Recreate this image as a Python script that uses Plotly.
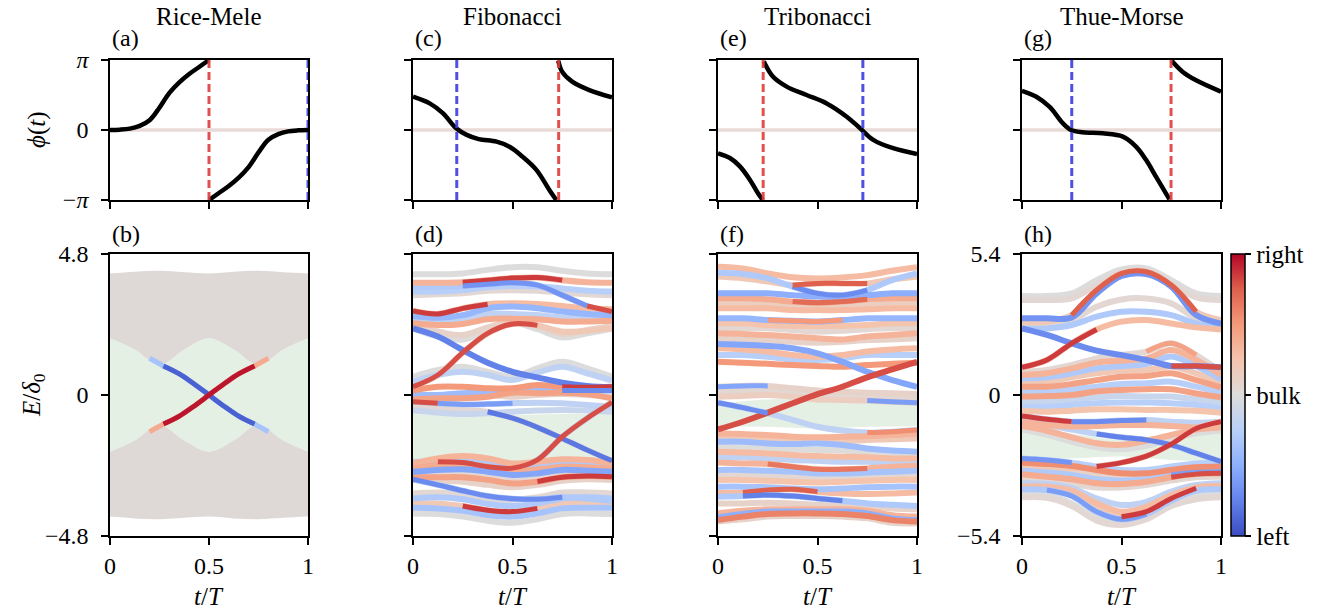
import math
import plotly.graph_objects as go

PI = math.pi
W, H = 1332, 613
FONT = "Liberation Serif, DejaVu Serif, serif"

# ---------------- data ----------------
titles = ["Rice-Mele", "Fibonacci", "Tribonacci", "Thue-Morse"]
top_labels = ["(a)", "(c)", "(e)", "(g)"]
bottom_labels = ["(b)", "(d)", "(f)", "(h)"]
x_ticks = [0, 0.5, 1]
x_ticktext = ["0", "0.5", "1"]
cbar_text = ["left", "bulk", "right"]

# phase phi(t) in units of pi, two branches per model
rm_t1 = [0, .05, .1, .15, .2, .25, .3, .35, .4, .45, .5]
rm_p1 = [0, 0.005, 0.02, 0.06, 0.14, 0.32, 0.53, 0.68, 0.8, 0.9, 1.0]
rm_t2 = [.5, .55, .6, .65, .7, .75, .8, .85, .9, .95, 1]
rm_p2 = [-1.0, -0.9, -0.8, -0.68, -0.53, -0.32, -0.14, -0.06, -0.02, -0.005, 0]

fib_t1 = [0, .084, .15, .217, .27, .33, .42, .485, .55, .62, .686, .72]
fib_p1 = [0.476, 0.38, 0.24, 0.024, -0.07, -0.13, -0.167, -0.24, -0.38, -0.57, -0.86, -1.0]
fib_t2 = [.73, .75, .80, .886, 1.0]
fib_p2 = [0.99, 0.83, 0.69, 0.57, 0.467]

tri_t1 = [0, .06, .11, .16, .2, .225]
tri_p1 = [-0.333, -0.40, -0.52, -0.71, -0.9, -1.0]
tri_t2 = [.23, .277, .345, .445, .546, .647, .714, .78, .88, 1]
tri_p2 = [0.98, 0.76, 0.62, 0.5, 0.38, 0.19, 0.024, -0.14, -0.26, -0.343]

tm_t1 = [0, .072, .139, .206, .247, .306, .406, .507, .574, .624, .674, .741]
tm_p1 = [0.56, 0.476, 0.33, 0.095, 0.0, -0.033, -0.048, -0.095, -0.24, -0.43, -0.67, -0.99]
tm_t2 = [.752, .808, .875, 1]
tm_p2 = [0.99, 0.83, 0.71, 0.548]

# positions of the dashed markers (red, blue)
rm_marks = (0.5, 1.0)
fib_marks = (0.732, 0.22)
tri_marks = (0.227, 0.728)
tm_marks = (0.749, 0.25)

# spectra: energies sampled at T9, base colour (-1 left ... 1 right), coloured stretches
T9 = [0, 0.125, 0.25, 0.375, 0.5, 0.625, 0.75, 0.875, 1.0]
T5 = [0, 0.25, 0.5, 0.75, 1.0]

rm_gap = [1.93, 1.55, 1.02, 1.55, 1.93, 1.55, 1.02, 1.55, 1.93]
rm_top = [4.14, 4.20, 4.23, 4.18, 4.14, 4.20, 4.23, 4.18, 4.14]
rm_edge_t = [0.2, 0.27, 0.35, 0.42, 0.5, 0.58, 0.65, 0.73, 0.8]
rm_edge_blue = [1.25, 0.99, 0.72, 0.40, 0.0, -0.40, -0.72, -0.99, -1.25]
rm_edge_red = [-1.25, -0.99, -0.72, -0.40, 0.0, 0.40, 0.72, 0.99, 1.25]

fib_green_top = [-0.65, -0.71, -0.68, -0.65, -0.65]
fib_green_bot = [-2.19, -2.10, -2.30, -2.24, -2.27]
fib_bands = [
    ([4.11, 4.11, 4.14, 4.26, 4.35, 4.35, 4.23, 4.14, 4.11], 0.0, []),
    ([3.82, 3.82, 3.84, 3.91, 3.98, 4.00, 3.91, 3.84, 3.82], 0.35, [(2, 6, 0.85)]),
    ([3.69, 3.69, 3.71, 3.77, 3.82, 3.74, 3.40, 3.03, 2.84], -0.3, [(2, 7, -0.65), (7, 8, 0.8)]),
    ([3.52, 3.52, 3.57, 3.67, 3.71, 3.69, 3.63, 3.55, 3.52], -0.25, []),
    ([3.40, 3.43, 3.46, 3.55, 3.57, 3.55, 3.48, 3.43, 3.40], 0.05, []),
    ([2.86, 2.76, 2.95, 3.09, 3.12, 3.10, 3.03, 2.95, 2.92], 0.3, [(0, 3, 0.85)]),
    ([2.69, 2.63, 2.72, 2.95, 3.01, 2.95, 2.84, 2.76, 2.72], -0.45, []),
    ([2.58, 2.52, 2.58, 2.76, 2.76, 2.72, 2.64, 2.61, 2.61], -0.2, []),
    ([2.44, 2.38, 2.42, 2.58, 2.60, 2.58, 2.50, 2.50, 2.53], 0.4, []),
    ([2.35, 2.16, 2.04, 2.30, 2.51, 2.35, 2.08, 2.21, 2.35], 0.1, []),
    ([2.26, 1.99, 1.89, 2.19, 2.46, 2.24, 1.96, 2.10, 2.26], 0.0, []),
    ([2.27, 1.99, 1.53, 1.10, 0.79, 0.60, 0.42, 0.31, 0.26], -0.75, []),
    ([0.28, 0.68, 1.44, 2.10, 2.42, 2.37, 2.16, 2.19, 2.27], 0.2, [(0, 5, 0.8)]),
    ([0.62, 0.85, 0.96, 0.79, 0.62, 0.91, 1.13, 0.91, 0.62], 0.0, []),
    ([0.45, 0.68, 0.79, 0.68, 0.51, 0.76, 0.96, 0.74, 0.49], -0.2, []),
    ([0.15, 0.28, 0.28, 0.23, 0.23, 0.34, 0.28, 0.26, 0.28], 0.5, [(6, 8, 0.85)]),
    ([0.03, 0.00, 0.06, 0.08, 0.11, 0.15, 0.15, 0.15, 0.15], -0.4, [(6, 8, -0.7)]),
    ([-0.08, -0.03, 0.03, 0.00, -0.06, 0.00, 0.03, 0.00, -0.06], 0.1, []),
    ([-0.15, -0.11, -0.11, -0.06, 0.08, 0.06, 0.08, 0.03, -0.12], 0.45, []),
    ([-0.23, -0.28, -0.32, -0.31, -0.28, -0.26, -0.28, -0.34, -0.40], -0.2, [(0, 1, 0.8), (1, 4, -0.6)]),
    ([-0.53, -0.60, -0.65, -0.62, -0.57, -0.53, -0.51, -0.53, -0.57], -0.15, []),
    ([-0.40, -0.45, -0.51, -0.57, -0.79, -1.10, -1.48, -1.87, -2.24], 0.05, [(3, 8, -0.8)]),
    ([-2.27, -2.27, -2.30, -2.44, -2.49, -2.21, -1.42, -0.79, -0.25], -0.2, [(1, 8, 0.8)]),
    ([-2.33, -2.16, -2.08, -2.16, -2.33, -2.27, -2.19, -2.21, -2.30], 0.35, []),
    ([-2.42, -2.27, -2.21, -2.30, -2.44, -2.39, -2.30, -2.33, -2.39], -0.3, []),
    ([-2.50, -2.38, -2.35, -2.44, -2.58, -2.53, -2.44, -2.46, -2.50], 0.4, []),
    ([-2.61, -2.55, -2.53, -2.61, -2.72, -2.67, -2.55, -2.58, -2.61], -0.55, []),
    ([-2.72, -2.69, -2.67, -2.76, -2.87, -2.78, -2.67, -2.67, -2.69], 0.05, []),
    ([-2.80, -2.80, -2.80, -2.89, -3.01, -2.95, -2.80, -2.76, -2.78], 0.45, [(5, 8, 0.85)]),
    ([-2.89, -2.92, -2.95, -3.06, -3.14, -3.06, -2.92, -2.87, -2.89], 0.1, []),
    ([-2.87, -3.06, -3.26, -3.44, -3.53, -3.55, -3.48, -3.53, -3.60], -0.3, [(0, 6, -0.7)]),
    ([-3.35, -3.32, -3.37, -3.52, -3.57, -3.48, -3.32, -3.32, -3.35], 0.05, []),
    ([-3.52, -3.48, -3.55, -3.71, -3.78, -3.69, -3.52, -3.48, -3.52], -0.3, []),
    ([-3.69, -3.69, -3.78, -3.92, -3.97, -3.86, -3.69, -3.67, -3.69], 0.2, [(2, 5, 0.85)]),
    ([-3.84, -3.86, -3.94, -4.09, -4.14, -4.03, -3.86, -3.84, -3.84], -0.35, []),
    ([-4.03, -4.05, -4.14, -4.28, -4.35, -4.23, -4.05, -4.03, -4.05], 0.0, []),
]

tri_green_top = [-0.31, -0.15, -0.15, -0.26, -0.34]
tri_green_bot = [-1.08, -1.08, -1.14, -1.08, -1.06]
tri_bands = [
    ([4.37, 4.31, 4.14, 4.01, 3.97, 4.00, 4.08, 4.23, 4.35], 0.3, []),
    ([4.16, 4.12, 3.97, 3.69, 3.46, 3.40, 3.57, 3.91, 4.14], -0.3, [(3, 6, -0.7)]),
    ([4.03, 3.97, 3.86, 3.74, 3.80, 3.80, 3.80, 3.94, 4.03], 0.2, [(3, 6, 0.75)]),
    ([3.46, 3.46, 3.46, 3.40, 3.35, 3.35, 3.40, 3.46, 3.46], -0.5, []),
    ([3.29, 3.29, 3.26, 3.18, 3.14, 3.18, 3.26, 3.29, 3.29], 0.4, [(3, 6, 0.7)]),
    ([3.14, 3.14, 3.12, 3.03, 3.01, 3.03, 3.10, 3.14, 3.14], 0.15, []),
    ([2.95, 2.95, 2.95, 2.89, 2.89, 2.89, 2.92, 2.95, 2.95], 0.3, []),
    ([2.61, 2.61, 2.55, 2.53, 2.50, 2.55, 2.61, 2.61, 2.61], -0.45, [(2, 5, 0.5)]),
    ([2.44, 2.44, 2.38, 2.35, 2.35, 2.35, 2.38, 2.44, 2.44], 0.25, []),
    ([2.27, 2.27, 2.27, 2.21, 2.16, 2.19, 2.24, 2.27, 2.27], 0.05, []),
    ([2.10, 2.08, 2.04, 1.99, 1.93, 1.89, 1.99, 2.04, 2.10], 0.35, []),
    ([1.93, 1.89, 1.87, 1.81, 1.78, 1.81, 1.87, 1.89, 1.93], 0.1, []),
    ([1.74, 1.71, 1.67, 1.59, 1.42, 1.13, 0.79, 0.51, 0.28], -0.55, []),
    ([1.59, 1.55, 1.48, 1.36, 1.30, 1.36, 1.48, 1.55, 1.59], 0.3, []),
    ([1.36, 1.36, 1.30, 1.21, 1.19, 1.25, 1.36, 1.36, 1.36], -0.25, []),
    ([1.13, 1.10, 1.06, 1.02, 0.99, 0.96, 1.02, 1.06, 1.10], 0.5, []),
    ([-1.17, -0.91, -0.60, -0.28, 0.03, 0.28, 0.60, 0.87, 1.13], 0.8, []),
    ([0.28, 0.31, 0.31, 0.23, 0.15, 0.11, 0.08, 0.06, 0.03], 0.1, [(0, 2, -0.55)]),
    ([0.11, 0.11, 0.11, 0.06, 0.00, -0.06, -0.06, -0.08, -0.11], 0.05, []),
    ([-0.26, -0.43, -0.62, -0.85, -1.08, -1.21, -1.28, -1.25, -1.19], -0.2, [(0, 2, -0.7), (6, 8, 0.55)]),
    ([-0.06, -0.03, 0.00, -0.06, -0.15, -0.17, -0.19, -0.23, -0.26], 0.15, [(6, 8, -0.6)]),
    ([-1.31, -1.33, -1.36, -1.42, -1.44, -1.42, -1.40, -1.36, -1.33], 0.35, []),
    ([-1.48, -1.49, -1.51, -1.59, -1.62, -1.59, -1.53, -1.51, -1.48], 0.2, []),
    ([-1.59, -1.59, -1.65, -1.67, -1.65, -1.70, -1.82, -1.89, -1.93], -0.4, []),
    ([-1.76, -1.78, -1.82, -1.85, -1.87, -1.89, -1.99, -2.04, -2.08], 0.0, []),
    ([-1.93, -1.96, -1.99, -2.04, -2.08, -2.10, -2.12, -2.16, -2.16], 0.3, []),
    ([-2.10, -2.12, -2.16, -2.21, -2.24, -2.27, -2.27, -2.30, -2.30], -0.2, []),
    ([-2.30, -2.33, -2.35, -2.44, -2.53, -2.53, -2.50, -2.44, -2.42], 0.35, [(2, 6, 0.65)]),
    ([-2.55, -2.55, -2.58, -2.61, -2.67, -2.67, -2.64, -2.61, -2.58], -0.35, []),
    ([-2.72, -2.73, -2.76, -2.80, -2.84, -2.80, -2.78, -2.76, -2.73], 0.05, []),
    ([-2.89, -2.89, -2.92, -2.95, -2.98, -2.95, -2.92, -2.89, -2.89], 0.25, []),
    ([-3.12, -3.12, -3.14, -3.18, -3.21, -3.18, -3.14, -3.12, -3.12], -0.35, []),
    ([-3.32, -3.32, -3.23, -3.21, -3.29, -3.35, -3.37, -3.35, -3.32], 0.3, [(1, 4, 0.75)]),
    ([-3.46, -3.44, -3.40, -3.44, -3.52, -3.60, -3.69, -3.74, -3.78], -0.3, [(1, 5, -0.75)]),
    ([-3.69, -3.69, -3.67, -3.69, -3.74, -3.78, -3.80, -3.86, -3.89], 0.1, []),
    ([-4.03, -3.94, -3.89, -3.89, -3.89, -3.89, -3.94, -4.09, -4.14], 0.35, []),
    ([-4.16, -4.05, -3.97, -3.97, -3.97, -3.97, -4.03, -4.20, -4.26], -0.5, []),
    ([-4.26, -4.14, -4.05, -4.03, -4.03, -4.05, -4.12, -4.26, -4.31], 0.6, []),
    ([-4.31, -4.23, -4.14, -4.12, -4.12, -4.14, -4.20, -4.35, -4.37], 0.1, []),
]

tm_green_top = [-1.21, -1.47, -1.72, -1.47, -1.15]
tm_green_bot = [-2.43, -2.43, -2.36, -2.49, -2.55]
tm_bands = [
    ([3.79, 3.79, 3.89, 4.40, 4.81, 4.85, 4.40, 3.89, 3.79], 0.0, []),
    ([3.64, 3.64, 3.70, 4.21, 4.66, 4.69, 4.25, 3.74, 3.64], 0.05, []),
    ([2.81, 2.81, 3.06, 4.02, 4.66, 4.72, 4.21, 3.19, 2.87], 0.2, [(2, 7, 0.75)]),
    ([2.94, 2.94, 2.97, 3.89, 4.56, 4.63, 4.15, 3.06, 2.74], -0.65, []),
    ([2.68, 2.68, 2.87, 3.38, 3.66, 3.70, 3.51, 2.94, 2.68], 0.05, []),
    ([2.55, 2.55, 2.68, 3.00, 3.19, 3.19, 3.06, 2.74, 2.59], -0.3, []),
    ([2.55, 2.30, 1.98, 1.70, 1.53, 1.34, 1.11, 1.11, 1.06], -0.7, [(6, 8, 0.8)]),
    ([1.06, 1.34, 1.98, 2.51, 2.81, 2.87, 2.74, 2.59, 2.51], 0.3, [(0, 3, 0.85)]),
    ([0.89, 0.96, 1.15, 1.40, 1.53, 1.66, 1.98, 1.53, 0.89], 0.05, [(5, 7, 0.45)]),
    ([0.77, 0.83, 1.02, 1.24, 1.31, 1.40, 1.72, 1.34, 0.77], 0.35, []),
    ([0.64, 0.68, 0.83, 1.02, 1.11, 1.19, 1.47, 1.11, 0.60], -0.3, []),
    ([0.47, 0.51, 0.68, 0.83, 0.93, 0.96, 1.09, 0.83, 0.45], 0.2, []),
    ([0.32, 0.32, 0.42, 0.57, 0.70, 0.73, 0.83, 0.57, 0.29], 0.45, []),
    ([0.13, 0.13, 0.22, 0.32, 0.42, 0.45, 0.51, 0.32, 0.09], -0.25, []),
    ([-0.06, -0.04, 0.00, 0.13, 0.19, 0.22, 0.22, 0.06, -0.09], 0.45, []),
    ([-0.26, -0.26, -0.17, -0.09, -0.04, -0.06, -0.06, -0.17, -0.29], -0.15, []),
    ([-0.45, -0.45, -0.38, -0.32, -0.29, -0.29, -0.32, -0.38, -0.51], -0.25, []),
    ([-0.60, -0.64, -0.60, -0.55, -0.55, -0.57, -0.57, -0.60, -0.68], 0.25, []),
    ([-0.80, -0.93, -1.02, -1.02, -0.98, -0.96, -1.02, -1.06, -1.02], -0.2, [(0, 2, 0.85), (2, 5, -0.7)]),
    ([-1.02, -1.15, -1.21, -1.19, -1.15, -1.15, -1.19, -1.24, -1.21], 0.35, []),
    ([-1.19, -1.37, -1.62, -1.85, -1.91, -1.75, -1.53, -1.32, -1.24], 0.35, []),
    ([-1.32, -1.53, -1.79, -2.00, -2.08, -1.95, -1.70, -1.47, -1.37], 0.0, []),
    ([-1.02, -1.15, -1.32, -1.49, -1.62, -1.72, -1.91, -2.23, -2.55], -0.2, [(3, 8, -0.75)]),
    ([-2.74, -2.77, -2.81, -2.74, -2.59, -2.34, -1.88, -1.28, -1.02], 0.2, [(3, 8, 0.85)]),
    ([-2.43, -2.49, -2.59, -2.74, -2.87, -2.87, -2.74, -2.62, -2.59], -0.25, [(0, 2, -0.65)]),
    ([-2.59, -2.64, -2.72, -2.87, -3.00, -3.00, -2.87, -2.77, -2.74], 0.55, []),
    ([-2.74, -2.81, -2.90, -3.06, -3.15, -3.13, -3.00, -2.90, -2.87], 0.1, []),
    ([-2.90, -2.97, -3.06, -3.23, -3.28, -3.23, -3.06, -2.97, -2.94], -0.3, [(6, 8, -0.6)]),
    ([-3.03, -3.13, -3.23, -3.38, -3.41, -3.32, -3.15, -3.03, -3.00], 0.4, [(6, 8, 0.8)]),
    ([-3.19, -3.28, -3.41, -3.54, -3.54, -3.45, -3.28, -3.15, -3.13], 0.05, []),
    ([-3.79, -3.82, -4.15, -4.72, -4.89, -4.66, -4.15, -3.87, -3.79], 0.0, []),
    ([-3.92, -3.94, -4.25, -4.81, -4.98, -4.76, -4.25, -3.99, -3.92], 0.05, []),
    ([-3.38, -3.41, -3.57, -3.96, -4.21, -4.09, -3.70, -3.45, -3.38], -0.2, []),
    ([-3.51, -3.51, -3.66, -4.15, -4.47, -4.28, -3.83, -3.54, -3.49], 0.3, []),
    ([-3.61, -3.64, -3.87, -4.47, -4.76, -4.56, -4.05, -3.66, -3.61], -0.3, [(1, 5, -0.6)]),
    ([-3.57, -3.57, -3.77, -4.28, -4.66, -4.47, -3.96, -3.57, -3.51], 0.2, [(4, 7, 0.85)]),
]

# ---------------- styling helpers ----------------
CW = [(0.0, (58, 76, 193)), (0.125, (98, 130, 234)), (0.25, (141, 175, 254)),
      (0.375, (184, 208, 249)), (0.5, (221, 220, 220)), (0.625, (245, 196, 173)),
      (0.75, (244, 154, 123)), (0.875, (222, 96, 77)), (1.0, (180, 4, 38))]


def cw(c):
    u = min(1.0, max(0.0, (c + 1) / 2))
    for (u0, c0), (u1, c1) in zip(CW[:-1], CW[1:]):
        if u <= u1:
            f = (u - u0) / (u1 - u0)
            r = [round(a + (b - a) * f) for a, b in zip(c0, c1)]
            return "rgb(%d,%d,%d)" % tuple(r)
    return "rgb(180,4,38)"


CW_SCALE = [[u, "rgb(%d,%d,%d)" % c] for u, c in CW]
BULK = "rgb(222,216,214)"
GREEN = "rgb(229,240,228)"
ZEROLINE = "rgb(232,218,214)"
RED_D = "rgba(222,60,60,0.9)"
BLUE_D = "rgba(60,60,222,0.9)"

cols = [(110, 308), (413, 612), (718, 917), (1022, 1221)]
top_px = (60, 200)
bot_px = (254, 536)

fig = go.Figure()


def add(x, y, ax, **kw):
    n = "" if ax == 1 else str(ax)
    fig.add_trace(go.Scatter(x=x, y=y, xaxis="x" + n, yaxis="y" + n,
                             showlegend=False, hoverinfo="skip", **kw))


def line(x, y, ax, color, width, shape="spline", dash=None, fill=None, fillcolor=None):
    add(x, y, ax, mode="lines",
        line=dict(color=color, width=width, shape=shape, dash=dash),
        fill=fill, fillcolor=fillcolor)


# ---------------- top panels: phase ----------------
phases = [(rm_t1, rm_p1, rm_t2, rm_p2, rm_marks),
          (fib_t1, fib_p1, fib_t2, fib_p2, fib_marks),
          (tri_t1, tri_p1, tri_t2, tri_p2, tri_marks),
          (tm_t1, tm_p1, tm_t2, tm_p2, tm_marks)]
for k, (t1, p1, t2, p2, marks) in enumerate(phases):
    ax = k + 1
    line([0, 1], [0, 0], ax, ZEROLINE, 3.5, shape="linear")
    line(t1, [p * PI for p in p1], ax, "black", 4.5)
    line(t2, [p * PI for p in p2], ax, "black", 4.5)
    line([marks[0], marks[0]], [-PI, PI], ax, RED_D, 3, shape="linear", dash="8px,4px")
    line([marks[1], marks[1]], [-PI, PI], ax, BLUE_D, 3, shape="linear", dash="8px,4px")

# ---------------- bottom panel (b): Rice-Mele ----------------
ax = 5
line(T9, [-g for g in rm_gap], ax, GREEN, 0)
line(T9, rm_gap, ax, GREEN, 0, fill="tonexty", fillcolor=GREEN)
line(T9, rm_gap, ax, BULK, 0)
line(T9, rm_top, ax, BULK, 0, fill="tonexty", fillcolor=BULK)
line(T9, [-v for v in rm_top], ax, BULK, 0)
line(T9, [-g for g in rm_gap], ax, BULK, 0, fill="tonexty", fillcolor=BULK)
line(rm_edge_t, rm_edge_blue, ax, cw(-0.35), 5)
line(rm_edge_t, rm_edge_red, ax, cw(0.4), 5)
line(rm_edge_t[1:8], rm_edge_blue[1:8], ax, cw(-0.9), 5)
line(rm_edge_t[1:8], rm_edge_red[1:8], ax, cw(0.95), 5)


def draw_spectrum(bands, gtop, gbot, ax, width=6):
    line(T5, gbot, ax, GREEN, 0)
    line(T5, gtop, ax, GREEN, 0, fill="tonexty", fillcolor=GREEN)
    order = sorted(range(len(bands)), key=lambda i: abs(bands[i][1]))
    for i in order:
        E, c, segs = bands[i]
        line(T9, E, ax, cw(c), width)
    for E, c, segs in bands:
        for i0, i1, cs in segs:
            line(T9[i0:i1 + 1], E[i0:i1 + 1], ax, cw(cs), width - 1)


draw_spectrum(fib_bands, fib_green_top, fib_green_bot, 6)
draw_spectrum(tri_bands, tri_green_top, tri_green_bot, 7)
draw_spectrum(tm_bands, tm_green_top, tm_green_bot, 8)

# colour bar
add([0.5], [0], 8, mode="markers",
    marker=dict(color=[0], colorscale=CW_SCALE, cmin=-1, cmax=1, opacity=0, size=1,
                showscale=True,
                colorbar=dict(x=1231 / W, xanchor="left", y=1 - 395 / H, yanchor="middle",
                              len=(bot_px[1] - bot_px[0]) / H, lenmode="fraction",
                              thickness=14, thicknessmode="pixels", xpad=0, ypad=0,
                              outlinewidth=1.5, outlinecolor="black",
                              ticks="outside", ticklen=6, tickwidth=1.5, tickcolor="black",
                              tickvals=[-1, 0, 1], ticktext=cbar_text,
                              tickfont=dict(family=FONT, size=25, color="black"))))

# ---------------- axes ----------------
axis_common = dict(showline=True, mirror=True, linecolor="black", linewidth=1.5,
                   ticks="outside", ticklen=7, tickwidth=1.5, tickcolor="black",
                   showgrid=False, zeroline=False, automargin=False,
                   tickfont=dict(family=FONT, size=24, color="black"))
layout = {}
for k in range(8):
    ax = k + 1
    n = "" if ax == 1 else str(ax)
    c0, c1 = cols[k % 4]
    py = top_px if k < 4 else bot_px
    xa = dict(axis_common, domain=[c0 / W, c1 / W], range=[0, 1], anchor="y" + n,
              tickvals=x_ticks, ticktext=x_ticktext, showticklabels=(k >= 4),
              ticklabelstandoff=0)
    if k < 4:
        ya = dict(axis_common, range=[-PI, PI], tickvals=[-PI, 0, PI],
                  ticktext=["\u2212<i>\u03c0</i>", "0", "<i>\u03c0</i>"],
                  showticklabels=(k == 0))
    else:
        lim = 5.4 if k == 7 else 4.8
        ya = dict(axis_common, range=[-lim, lim], tickvals=[-lim, 0, lim],
                  ticktext=["\u2212%.1f" % lim, "0", "%.1f" % lim],
                  showticklabels=(k in (4, 7)))
    ya.update(domain=[1 - py[1] / H, 1 - py[0] / H], anchor="x" + n, ticklabelstandoff=8)
    layout["xaxis" + n] = xa
    layout["yaxis" + n] = ya

ann = []
for k in range(4):
    c0, c1 = cols[k]
    xc = (c0 + c1) / 2 / W
    ann.append(dict(text=titles[k], x=xc, y=1 - 16 / H, showarrow=False,
                    xanchor="center", yanchor="middle", font=dict(size=25)))
    ann.append(dict(text=top_labels[k], x=c0 / W, y=1 - 38 / H, showarrow=False,
                    xanchor="left", yanchor="middle", font=dict(size=24)))
    ann.append(dict(text=bottom_labels[k], x=c0 / W, y=1 - 234 / H, showarrow=False,
                    xanchor="left", yanchor="middle", font=dict(size=24)))
    ann.append(dict(text="<i>t</i>/<i>T</i>", x=xc, y=1 - 596 / H, showarrow=False,
                    xanchor="center", yanchor="middle", font=dict(size=25)))
ann.append(dict(text="<i>\u03d5</i>(<i>t</i>)", x=37 / W, y=1 - 130 / H, showarrow=False,
                textangle=-90, xanchor="center", yanchor="middle", font=dict(size=25)))
ann.append(dict(text="<i>E</i>/<i>\u03b4</i><sub>0</sub>", x=33 / W, y=1 - 395 / H,
                showarrow=False, textangle=-90, xanchor="center", yanchor="middle",
                font=dict(size=25)))
for a in ann:
    a.update(xref="paper", yref="paper")
    a["font"].update(family=FONT, color="black")

fig.update_layout(width=W, height=H, autosize=False,
                  margin=dict(l=0, r=0, t=0, b=0, pad=0, autoexpand=False),
                  paper_bgcolor="white", plot_bgcolor="white", annotations=ann,
                  showlegend=False, font=dict(family=FONT, color="black"), **layout)

fig.write_html("out.html",
               post_script="document.body.style.margin='0px';"
                           "document.body.style.overflow='hidden';")
